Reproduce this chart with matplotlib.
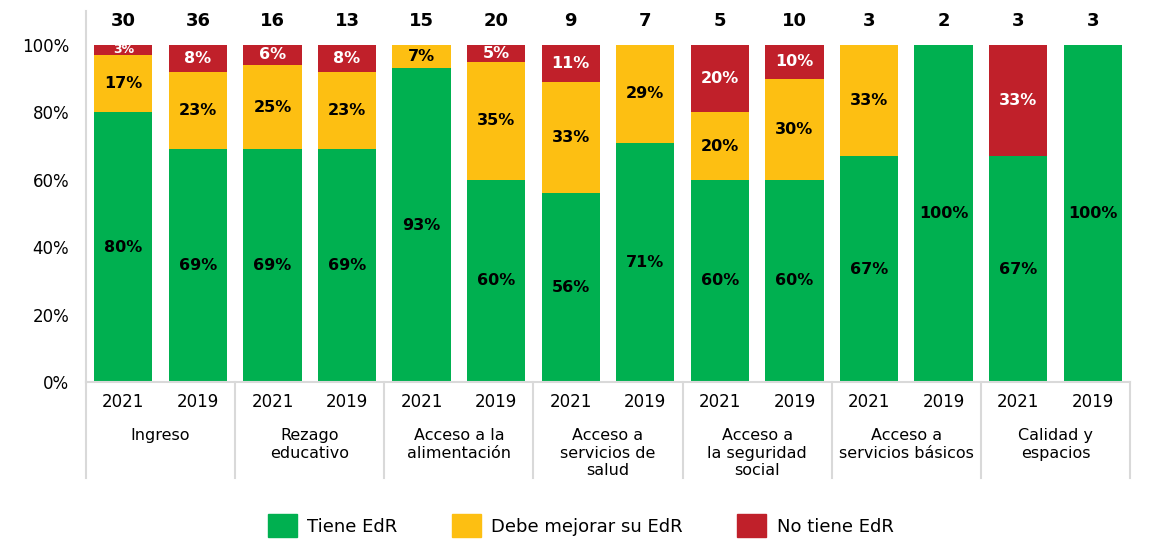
import numpy as np
import matplotlib.pyplot as plt
from matplotlib.patches import Patch
import matplotlib.transforms as mtransforms

plt.rcParams['font.family'] = ['DejaVu Sans']

# Data
categories = ["Ingreso", "Rezago\neducativo", "Acceso a la\nalimentación",
              "Acceso a\nservicios de\nsalud", "Acceso a\nla seguridad\nsocial",
              "Acceso a\nservicios básicos", "Calidad y\nespacios"]
years = ["2021", "2019"] * 7
tiene = [80, 69, 69, 69, 93, 60, 56, 71, 60, 60, 67, 100, 67, 100]
debe = [17, 23, 25, 23, 7, 35, 33, 29, 20, 30, 33, 0, 0, 0]
no_tiene = [3, 8, 6, 8, 0, 5, 11, 0, 20, 10, 0, 0, 33, 0]
counts = [30, 36, 16, 13, 15, 20, 9, 7, 5, 10, 3, 2, 3, 3]

green = "#00B050"
yellow = "#FDBF12"
red = "#C0202A"
gray = "#D9D9D9"

fig = plt.figure(figsize=(11.5, 5.47), dpi=100)
ax = fig.add_axes([0.0748, 0.3016, 0.9078, 0.678])

x = np.arange(len(tiene))
w = 0.78
tiene = np.array(tiene)
debe = np.array(debe)
no_tiene = np.array(no_tiene)

ax.bar(x, tiene, w, color=green)
ax.bar(x, debe, w, bottom=tiene, color=yellow)
ax.bar(x, no_tiene, w, bottom=tiene + debe, color=red)

# Segment labels
for i in range(len(x)):
    ax.text(x[i], tiene[i] / 2, f"{tiene[i]}%", ha='center', va='center',
            fontsize=11.5, fontweight='bold', color='black')
    if debe[i] > 0:
        ax.text(x[i], tiene[i] + debe[i] / 2, f"{debe[i]}%", ha='center', va='center',
                fontsize=11.5, fontweight='bold', color='black')
    if no_tiene[i] > 0:
        fs = 9 if no_tiene[i] < 5 else 11.5
        ax.text(x[i], tiene[i] + debe[i] + no_tiene[i] / 2, f"{no_tiene[i]}%",
                ha='center', va='center', fontsize=fs, fontweight='bold', color='white')
    ax.text(x[i], 107, str(counts[i]), ha='center', va='center',
            fontsize=13, fontweight='bold', color='black')

ax.set_ylim(0, 110)
ax.set_xlim(-0.5, len(x) - 0.5)
ax.set_yticks(np.arange(0, 101, 20))
ax.set_yticklabels([f"{v}%" for v in range(0, 101, 20)], fontsize=12)
ax.set_xticks(x)
ax.set_xticklabels(years, fontsize=12)
ax.tick_params(length=0, pad=8)
ax.tick_params(axis='y', pad=12)

for s in ['top', 'right']:
    ax.spines[s].set_visible(False)
ax.spines['left'].set_color(gray)
ax.spines['left'].set_linewidth(1.5)
ax.spines['bottom'].set_color(gray)
ax.spines['bottom'].set_linewidth(1.5)

# Group separators and category labels
trans = mtransforms.blended_transform_factory(ax.transData, ax.transAxes)
for g in range(len(categories) + 1):
    xs = g * 2 - 0.5
    ax.plot([xs, xs], [0, -0.26], color=gray, lw=1.5, transform=trans, clip_on=False)
for g, name in enumerate(categories):
    ax.text(g * 2 + 0.5, -0.125, name, ha='center', va='top', fontsize=11.5,
            transform=trans, linespacing=1.2)

# Legend
handles = [Patch(color=green, label="Tiene EdR"),
           Patch(color=yellow, label="Debe mejorar su EdR"),
           Patch(color=red, label="No tiene EdR")]
fig.legend(handles=handles, loc='lower center', bbox_to_anchor=(0.505, -0.012), ncol=3,
           frameon=False, fontsize=13, handlelength=1.6, handleheight=1.6,
           handletextpad=0.6, columnspacing=3.0)

fig.savefig("out.png", dpi=100)
